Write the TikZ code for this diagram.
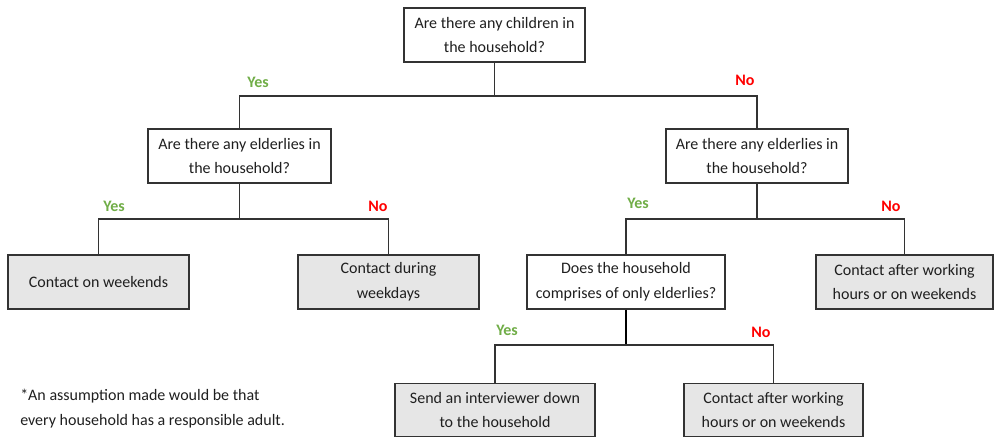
\documentclass[tikz,border=0pt]{standalone}
\usepackage{fontspec}
\setmainfont{Carlito}
\definecolor{yesgreen}{HTML}{70AD47}
\definecolor{nored}{HTML}{FF0000}
\definecolor{boxline}{HTML}{333333}
\definecolor{leafgray}{HTML}{E6E6E6}
\definecolor{txt}{HTML}{1F1F1F}
\begin{document}
\begin{tikzpicture}[x=0.75pt,y=-0.75pt,
  question/.style={draw=boxline,line width=1pt,fill=white,align=center,
    inner sep=0pt,text=txt,font=\fontsize{12}{18.5}\selectfont},
  leaf/.style={question,fill=leafgray},
  link/.style={draw=boxline,line width=1pt},
  yeslab/.style={text=yesgreen,font=\fontsize{12}{14}\selectfont\bfseries},
  nolab/.style={text=nored,font=\fontsize{12}{14}\selectfont\bfseries}]
\useasboundingbox (0,0) rectangle (995,437);

% questions
\node[question,minimum width=181*0.75pt,minimum height=54*0.75pt] (q1) at (494.5,35)
  {Are there any children in\\the household?};
\node[question,minimum width=183*0.75pt,minimum height=54*0.75pt] (q2) at (239.5,156)
  {Are there any elderlies in\\the household?};
\node[question,minimum width=182*0.75pt,minimum height=54*0.75pt] (q3) at (757,156)
  {Are there any elderlies in\\the household?};
\node[question,minimum width=198*0.75pt,minimum height=54*0.75pt] (q4) at (626,282)
  {Does the household\\comprises of only elderlies?};

% outcomes
\node[leaf,minimum width=181*0.75pt,minimum height=54*0.75pt] (a1) at (98.5,282)
  {Contact on weekends};
\node[leaf,minimum width=181*0.75pt,minimum height=54*0.75pt] (a2) at (388.5,282)
  {Contact during\\weekdays};
\node[leaf,minimum width=177*0.75pt,minimum height=54*0.75pt] (a3) at (904.5,282)
  {Contact after working\\hours or on weekends};
\node[leaf,minimum width=200*0.75pt,minimum height=53*0.75pt] (a4) at (495,410)
  {Send an interviewer down\\to the household};
\node[leaf,minimum width=179*0.75pt,minimum height=53*0.75pt] (a5) at (773.5,410)
  {Contact after working\\hours or on weekends};

% branch junctions
\coordinate (j1) at (q1.south |- 0,96);
\coordinate (j2) at (q2.south |- 0,219);
\coordinate (j3) at (q3.south |- 0,219);
\coordinate (j4) at (q4.south |- 0,345);

\draw[link] (q1.south) -- (j1);
\draw[link] (j1) -| (q2.north);
\draw[link] (j1) -| (q3.north);
\draw[link] (q2.south) -- (j2);
\draw[link] (j2) -| (a1.north);
\draw[link] (j2) -| (a2.north);
\draw[link] (q3.south) -- (j3);
\draw[link] (j3) -| (q4.north);
\draw[link] (j3) -| (a3.north);
\draw[link,line width=1.5pt,draw=black] (q4.south) -- (j4);
\draw[link] (j4) -| (a4.north);
\draw[link] (j4) -| (a5.north);

% branch labels
\node[yeslab] (y1) at (258,82) {Yes};
\node[nolab] (n1) at (745,80) {No};
\node[yeslab] (y2) at (114,206) {Yes};
\node[nolab] (n2) at (378,206) {No};
\node[yeslab] (y3) at (638,203) {Yes};
\node[nolab] (n3) at (891,206) {No};
\node[yeslab] (y4) at (507,330) {Yes};
\node[nolab] (n4) at (761,332) {No};

% footnote
\node[anchor=north west,align=left,inner sep=0pt,text=txt,
  font=\fontsize{12}{18.5}\selectfont] (note) at (20,389)
  {*An assumption made would be that\\every household has a responsible adult.};
\end{tikzpicture}
\end{document}
